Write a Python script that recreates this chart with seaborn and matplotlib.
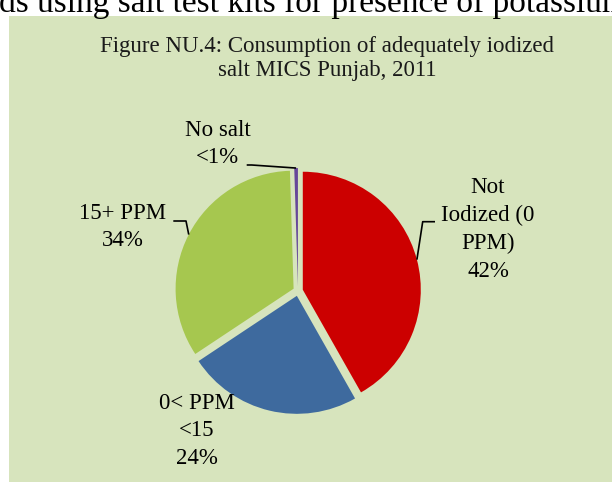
import numpy as np
import matplotlib
matplotlib.use("Agg")
import matplotlib.pyplot as plt
import seaborn as sns
from matplotlib.patches import Rectangle

# data
categories = ["Not Iodized (0 PPM)", "0< PPM <15", "15+ PPM", "No salt"]
values = [42, 24, 34, 0.5]
pct_labels = ["42%", "24%", "34%", "<1%"]
label_names = ["Not\nIodized (0\nPPM)", "0< PPM\n<15", "15+ PPM", "No salt"]
colors = ["#cc0000", "#3e6a9e", "#a6c74f", "#66479a"]

title = "Figure NU.4: Consumption of adequately iodized\nsalt MICS Punjab, 2011"
top_line = "ds using salt test kits for presence of potassium iodate"

sns.set_style("white")
plt.rcParams["font.family"] = ["Liberation Serif", "DejaVu Serif"]

W, H = 612, 482
fig = plt.figure(figsize=(W / 100, H / 100), dpi=100)
fig.patch.set_facecolor("white")
fig.add_artist(Rectangle((9 / W, 0), 1, (H - 16) / H, transform=fig.transFigure,
                         facecolor="#d7e4bd", edgecolor="none", zorder=0))

ax = fig.add_axes([0, 0, 1, 1])
ax.patch.set_alpha(0)

# pie drawn in pixel-like units (y up)
cx, cy, r = 298, H - 291, 118
wedges, _ = ax.pie(values, colors=colors, startangle=90, counterclock=False,
                   radius=r, center=(cx, cy), explode=[0.042 * r] * len(values),
                   wedgeprops=dict(linewidth=0))
ax.set_xlim(0, W)
ax.set_ylim(0, H)
ax.axis("off")


def edge_point(w):
    a = np.deg2rad((w.theta1 + w.theta2) / 2)
    return w.center[0] + w.r * np.cos(a), w.center[1] + w.r * np.sin(a)


fs = 16.5
# labels: (x, y in px from top)
label_pos = [(488, 229.5), (197, 431), (123, 227), (217.5, 144)]
for name, pct, (lx, ly) in zip(label_names, pct_labels, label_pos):
    ax.text(lx, H - ly, name + "\n" + pct, ha="center", va="center",
            fontsize=fs, linespacing=1.42, color="black")

# leader lines (start, elbow) then the wedge edge
leaders = {0: [(435, 221.7), (422.7, 221.7)],
           2: [(173.3, 221), (186, 221)],
           3: [(246.7, 165), (251.7, 165)]}
for i, pts in leaders.items():
    ex, ey = edge_point(wedges[i])
    xs = [p[0] for p in pts] + [ex]
    ys = [H - p[1] for p in pts] + [ey]
    ax.plot(xs, ys, color="black", lw=1.2, solid_capstyle="butt")

ax.text(327.5, H - 58.5, title, ha="center", va="center", fontsize=16.5,
        linespacing=1.15, color="#1a1a1a")

ax.text(-1, H - 12, top_line, ha="left", va="baseline", fontsize=24,
        color="black", clip_on=False)

fig.savefig("out.png", dpi=100)
